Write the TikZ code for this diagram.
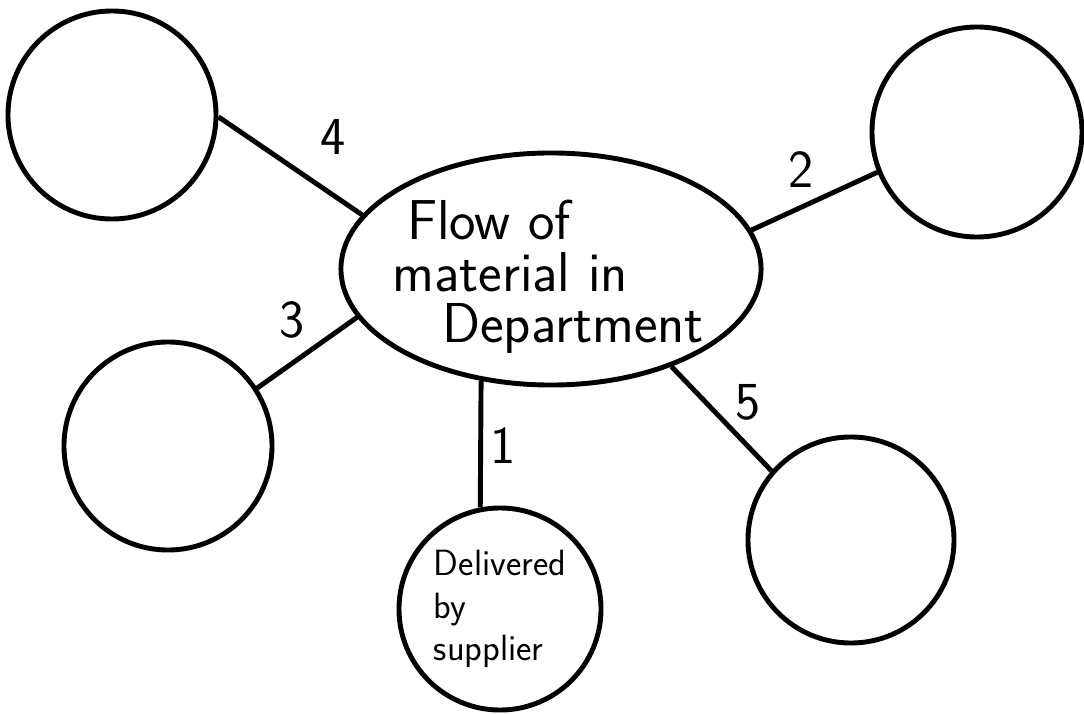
\documentclass[tikz,border=0pt]{standalone}
\usetikzlibrary{shapes.geometric}
\begin{document}
\begin{tikzpicture}[x=0.025cm, y=-0.025cm,
    station/.style={draw, circle, line width=3.5pt, minimum size=5.2cm, inner sep=0pt,
                    font=\sffamily\fontsize{26}{30}\selectfont, align=left},
    dept/.style={draw, ellipse, line width=3.5pt, minimum width=10.5cm, minimum height=5.8cm},
    link/.style={line width=3.5pt},
    flownum/.style={font=\sffamily\fontsize{38}{38}\selectfont, inner sep=0pt},
  ]
  \useasboundingbox (0,0) rectangle (1084,714);

  % Centre
  \node[dept] (dept) at (551,269) {};
  \node[font=\sffamily\fontsize{40}{36.5}\selectfont, align=left, inner sep=0pt]
    (depttext) at (548,277) {\hspace*{0.375cm}Flow of\\material in\\\hspace*{1.25cm}Department};

  % Outer circles
  \node[station] (tl) at (112,115) {};
  \node[station, minimum size=5.25cm] (tr) at (977,132) {};
  \node[station] (ml) at (168,446) {};
  \node[station, minimum size=5.15cm] (br) at (851,540) {};
  \node[station, minimum size=5.05cm] (supp) at (500,609) {Delivered\\by\\supplier};

  % Links
  \draw[link] (tl.-1) -- (dept.164);
  \draw[link] (tr.202) -- (dept.11);
  \draw[link] (ml.33) -- (dept.194);
  \draw[link] (dept.238) -- (supp.101);
  \draw[link] (dept.-39) -- (br.139);

  % Link numbers
  \node[flownum] (n4) at (333,137) {4};
  \node[flownum] (n2) at (801,170) {2};
  \node[flownum] (n3) at (292,320) {3};
  \node[flownum] (n1) at (503,446) {1};
  \node[flownum] (n5) at (748,402) {5};
\end{tikzpicture}
\end{document}
